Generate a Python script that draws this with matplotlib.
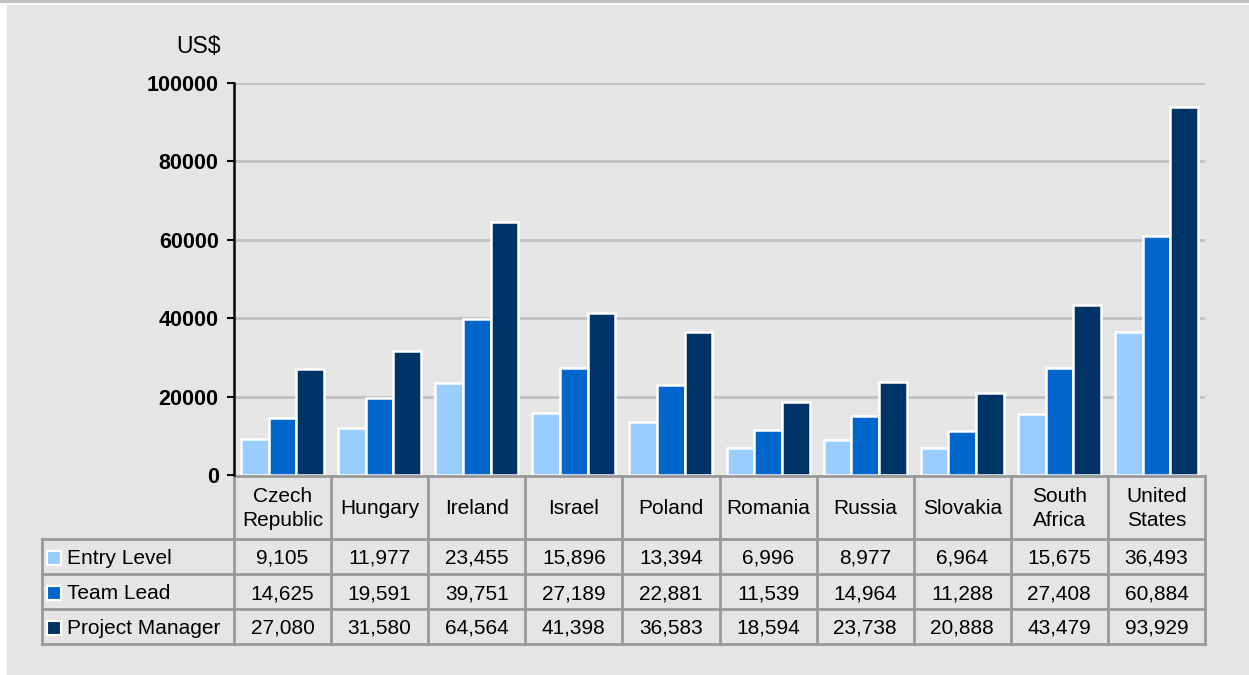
import matplotlib.pyplot as plt
import matplotlib.transforms as mtransforms
from matplotlib.patches import Rectangle
import numpy as np

#### Data
countries = ['Czech\nRepublic', 'Hungary', 'Ireland', 'Israel', 'Poland',
             'Romania', 'Russia', 'Slovakia', 'South\nAfrica', 'United\nStates']
series_names = ['Entry Level', 'Team Lead', 'Project Manager']
entry_level = [9105, 11977, 23455, 15896, 13394, 6996, 8977, 6964, 15675, 36493]
team_lead = [14625, 19591, 39751, 27189, 22881, 11539, 14964, 11288, 27408, 60884]
project_manager = [27080, 31580, 64564, 41398, 36583, 18594, 23738, 20888, 43479, 93929]
colors = ['#99ccff', '#0066cc', '#003366']

plt.rcParams['font.family'] = ['Liberation Sans', 'DejaVu Sans']

#### Figure / background
W, H = 1249, 675
fig = plt.figure(figsize=(W / 100, H / 100), dpi=100, facecolor='white')
fig.patches.append(Rectangle((7 / W, 0), 1 - 7 / W, 1 - 5 / H, transform=fig.transFigure,
                             facecolor='#e5e5e5', edgecolor='none', zorder=-10))
fig.patches.append(Rectangle((0, 1 - 3 / H), 1, 3 / H, transform=fig.transFigure,
                             facecolor='#c0c0c0', edgecolor='none', zorder=-10))

ax_l, ax_r, ax_t, ax_b = 234, 1205, 83, 475
ax = fig.add_axes([ax_l / W, 1 - ax_b / H, (ax_r - ax_l) / W, (ax_b - ax_t) / H])
ax.set_facecolor('none')

#### Bars
x = np.arange(len(countries))
width = 0.285
all_series = [entry_level, team_lead, project_manager]
for i, (vals, c) in enumerate(zip(all_series, colors)):
    ax.bar(x + (i - 1) * width, vals, width, color=c, edgecolor='white', linewidth=1.8, zorder=3)

ax.set_xlim(-0.5, len(countries) - 0.5)
ax.set_ylim(0, 100000)
ax.set_yticks(np.arange(0, 100001, 20000))
ax.set_yticklabels([str(v) for v in range(0, 100001, 20000)], fontweight='bold', fontsize=15.5)
ax.tick_params(axis='y', direction='out', length=5, width=1.5, pad=6)
ax.set_xticks([])
for v in range(20000, 100001, 20000):
    ax.axhline(v, color='#c0c0c0', linewidth=2, zorder=1)
for s in ['top', 'right']:
    ax.spines[s].set_visible(False)
ax.spines['left'].set_linewidth(1.8)
ax.spines['bottom'].set_visible(False)

ax.text(-0.037, 1.092, 'US$', transform=ax.transAxes, ha='center', va='center', fontsize=16.5)

#### Data table (drawn below the axes)
trans = mtransforms.blended_transform_factory(ax.transData, ax.transAxes)
ax_h = ax_b - ax_t
col_w = (ax_r - ax_l) / len(countries)

def yfrac(py):
    return (ax_b - py) / ax_h

header_top, header_bot = 476, 539
row_h = 35
row_tops = [header_bot + k * row_h for k in range(len(series_names) + 1)]
label_left = -0.5 - (ax_l - 42) / col_w
lc = '#999999'
lw = 2

# header grid
ax.plot([-0.5, len(countries) - 0.5], [yfrac(header_top)] * 2, transform=trans,
        color=lc, lw=lw, clip_on=False, zorder=2)
for k in range(len(countries) + 1):
    ax.plot([k - 0.5] * 2, [yfrac(header_top), yfrac(row_tops[-1])], transform=trans,
            color=lc, lw=lw, clip_on=False)
for yy in row_tops:
    ax.plot([label_left, len(countries) - 0.5], [yfrac(yy)] * 2, transform=trans,
            color=lc, lw=lw, clip_on=False)
ax.plot([label_left] * 2, [yfrac(row_tops[0]), yfrac(row_tops[-1])], transform=trans,
        color=lc, lw=lw, clip_on=False)

# header labels
for k, name in enumerate(countries):
    ax.text(k, yfrac((header_top + header_bot) / 2 + 1), name, transform=trans,
            ha='center', va='center', fontsize=15, linespacing=1.3, clip_on=False)

# rows
sq_w = 14 / col_w
for r, (name, vals, c) in enumerate(zip(series_names, all_series, colors)):
    yc = yfrac(row_tops[r] + row_h / 2 + 2)
    sq_h = 14 / ax_h
    ax.add_patch(Rectangle((label_left + 5 / col_w, yfrac(row_tops[r] + row_h / 2 + 1) - sq_h / 2),
                           sq_w, sq_h, transform=trans, facecolor=c, edgecolor='white',
                           lw=1.5, clip_on=False))
    ax.text(label_left + 25 / col_w, yc, name, transform=trans, ha='left', va='center',
            fontsize=15, clip_on=False)
    for k, v in enumerate(vals):
        ax.text(k, yc, f'{v:,}', transform=trans, ha='center', va='center',
                fontsize=15, clip_on=False)

fig.savefig('out.png', dpi=100)
